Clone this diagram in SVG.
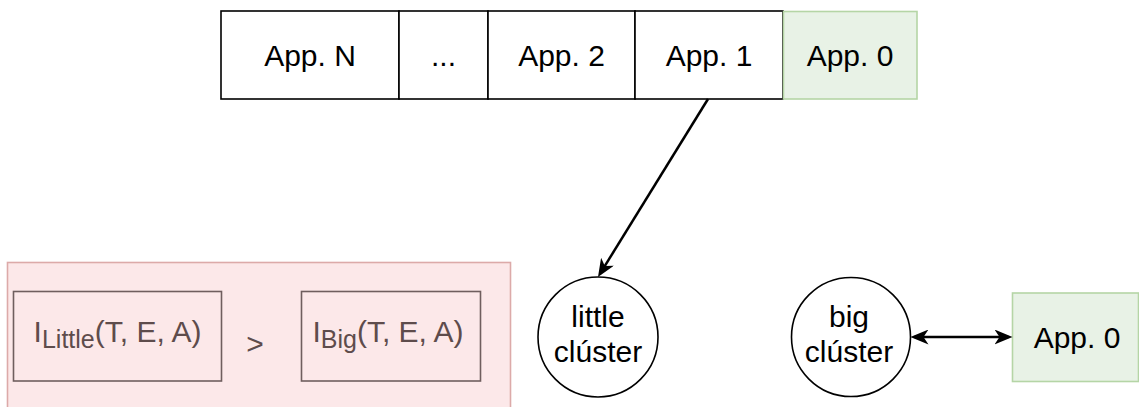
<svg xmlns="http://www.w3.org/2000/svg" width="1139" height="407" viewBox="0 0 1139 407">
  <defs>
    <style>
      .lbl { font-family: "Liberation Sans", Arial, Helvetica, sans-serif; font-size: 30px; fill: #000; text-anchor: middle; }
      .box { fill: #ffffff; stroke: #000; stroke-width: 1.6; }
      .app0 { fill: #e8f2e6; stroke: #b5d5a6; stroke-width: 1.6; }
      .node { fill: #ffffff; stroke: #000; stroke-width: 1.6; }
      .panel { fill: #fce8e9; stroke: #dcaaa9; stroke-width: 1.6; }
      .term { fill: none; stroke: #6f5e5e; stroke-width: 1.6; }
      .muted { fill: #5e4c4c; }
      .edge { fill: none; stroke: #000; stroke-width: 2.5; }
    </style>
    <marker id="arrow" viewBox="0 0 18 15" markerWidth="18" markerHeight="15" refX="14" refY="7.5" markerUnits="userSpaceOnUse" orient="auto-start-reverse">
      <path d="M0,0 L18,7.5 L0,15 L5,7.5 Z" fill="#000"/>
    </marker>
  </defs>

  <!-- application queue -->
  <g id="app-n">
    <rect class="box" x="221" y="11" width="178" height="88"/>
    <text class="lbl" x="310" y="65.5">App. N</text>
  </g>
  <g id="app-dots">
    <rect class="box" x="399" y="11" width="89" height="88"/>
    <text class="lbl" x="443.5" y="65.5">...</text>
  </g>
  <g id="app-2">
    <rect class="box" x="488" y="11" width="147" height="88"/>
    <text class="lbl" x="561.5" y="65.5">App. 2</text>
  </g>
  <g id="app-1">
    <rect class="box" x="635" y="11" width="148" height="88"/>
    <text class="lbl" x="709" y="65.5">App. 1</text>
  </g>
  <g id="app-0-queue">
    <rect class="app0" x="783.5" y="11.5" width="133.5" height="87.5"/>
    <text class="lbl" x="850" y="65.5">App. 0</text>
  </g>

  <!-- condition panel -->
  <g id="condition">
    <rect class="panel" x="7.5" y="262.5" width="503" height="150"/>
    <rect class="term" x="13.5" y="291.5" width="208" height="89.5"/>
    <text class="lbl muted" x="117.5" y="342">I<tspan font-size="25" dy="6">Little</tspan><tspan dy="-6">(T, E, A)</tspan></text>
    <text class="lbl muted" x="255" y="354">&gt;</text>
    <rect class="term" x="301.5" y="291.5" width="179" height="89.5"/>
    <text class="lbl muted" x="388" y="342">I<tspan font-size="25" dy="6">Big</tspan><tspan dy="-6">(T, E, A)</tspan></text>
  </g>

  <!-- clusters -->
  <g id="little-cluster">
    <circle class="node" cx="598" cy="337" r="60"/>
    <text class="lbl" x="598" y="327">little</text>
    <text class="lbl" x="598" y="362">clúster</text>
  </g>
  <g id="big-cluster">
    <circle class="node" cx="851" cy="337" r="59.5"/>
    <text class="lbl" x="849" y="327">big</text>
    <text class="lbl" x="849" y="362">clúster</text>
  </g>
  <g id="app-0-running">
    <rect class="app0" x="1012.5" y="293" width="126" height="88.5"/>
    <text class="lbl" x="1077" y="347.5">App. 0</text>
  </g>

  <!-- connectors -->
  <g id="connectors">
    <path class="edge" d="M708,99 L600.1,273.6" marker-end="url(#arrow)"/>
    <path class="edge" d="M914.5,337 L1008.5,337" marker-start="url(#arrow)" marker-end="url(#arrow)"/>
  </g>
</svg>
